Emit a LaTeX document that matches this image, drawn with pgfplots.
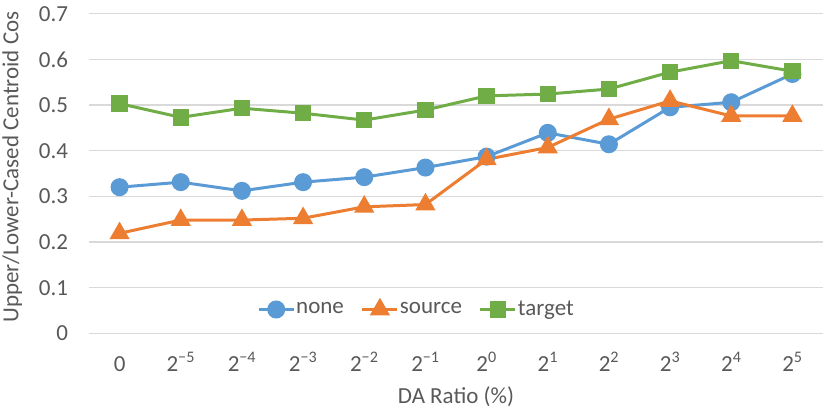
\documentclass[border=0pt]{standalone}
\usepackage{fontspec}
\setmainfont{Carlito}
\usepackage{pgfplots}
\pgfplotsset{compat=1.18}
\definecolor{txt}{HTML}{595959}
\definecolor{grd}{HTML}{D9D9D9}
\definecolor{cb}{HTML}{5B9BD5}
\definecolor{co}{HTML}{ED7D31}
\definecolor{cg}{HTML}{70AD47}
\newcommand{\tw}[1]{2\textsuperscript{#1}}
\newcommand{\fs}{\fontsize{23bp}{27bp}\selectfont}
\begin{document}
\fs
\begin{tikzpicture}
\path[use as bounding box] (0,0) rectangle (831bp,410bp);
\begin{axis}[
  at={(89bp,76.7bp)}, anchor=south west,
  scale only axis, width=734bp, height=319.6bp,
  xmin=-0.5, xmax=11.5, ymin=0, ymax=0.7,
  axis line style={draw=none},
  major tick length=0pt,
  ymajorgrids, grid style={grd, line width=1.3bp},
  ytick={0,0.1,0.2,0.3,0.4,0.5,0.6,0.7},
  yticklabels={0,0.1,0.2,0.3,0.4,0.5,0.6,0.7},
  xtick={0,1,2,3,4,5,6,7,8,9,10,11},
  xticklabels={0,\tw{−5},\tw{−4},\tw{−3},\tw{−2},\tw{−1},\tw{0},\tw{1},\tw{2},\tw{3},\tw{4},\tw{5}},
  tick label style={font=\fs, text=txt, inner sep=0pt},
  yticklabel style={anchor=east, xshift=-20.7bp},
  xticklabel style={anchor=base, yshift=-38.4bp},
  xlabel={DA Ratio (\%)},
  ylabel={Upper/Lower-Cased Centroid Cos},
  every axis x label/.style={at={(axis description cs:0.5,-0.219)}, anchor=base, font=\fs, text=txt, inner sep=0pt},
  every axis y label/.style={at={(axis description cs:-0.0963,0.5203)}, rotate=90, anchor=base, font=\fs, text=txt, inner sep=0pt},
  legend columns=3,
  legend style={at={(axis description cs:0.4455,0.0745)}, anchor=center, draw=none, fill=none, font=\fs, text=txt, inner sep=0pt, nodes={inner sep=1bp}},
  legend image code/.code={\draw[mark repeat=2,mark phase=2,#1] plot coordinates {(0bp,0bp) (17.5bp,0bp) (35bp,0bp)};},
  every axis plot/.append style={line width=3bp},
]
\addplot[cb, mark=*, mark size=7.5bp, mark options={draw=none, fill=cb}] coordinates {
(0,0.320) (1,0.331) (2,0.312) (3,0.331) (4,0.342) (5,0.363) (6,0.387) (7,0.439) (8,0.414) (9,0.495) (10,0.506) (11,0.568)};
\addlegendentry{none\rule{16bp}{0pt}}
\addplot[co, mark=triangle*, mark size=8.7bp, mark options={draw=none, fill=co}] coordinates {
(0,0.219) (1,0.248) (2,0.248) (3,0.252) (4,0.277) (5,0.282) (6,0.381) (7,0.407) (8,0.469) (9,0.509) (10,0.476) (11,0.476)};
\addlegendentry{source\rule{16bp}{0pt}}
\addplot[cg, mark=square*, mark size=6.7bp, mark options={draw=none, fill=cg}] coordinates {
(0,0.503) (1,0.473) (2,0.493) (3,0.482) (4,0.467) (5,0.489) (6,0.520) (7,0.524) (8,0.535) (9,0.572) (10,0.597) (11,0.574)};
\addlegendentry{target}
\end{axis}
\end{tikzpicture}
\end{document}
